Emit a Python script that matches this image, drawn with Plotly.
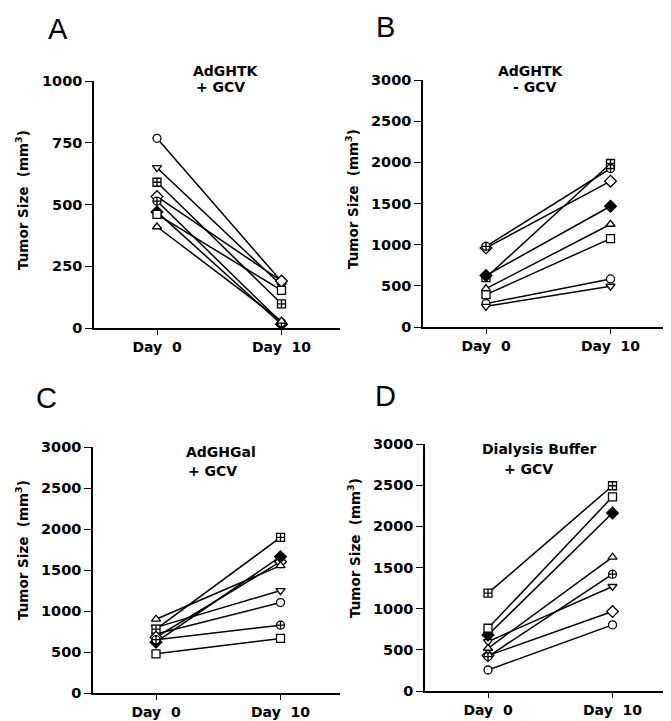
import plotly.graph_objects as go

W, H = 671, 721
OFF = 8                      # browser body margin
PW, PH = W, H

days = [0, 10]
day_labels = ["Day\u00a0\u00a00", "Day\u00a0\u00a010"]
mice = ["circle", "triangle-down", "square-cross", "diamond", "diamond-filled",
        "circle-cross", "square", "triangle-up"]

# Tumor size (mm3) per mouse, Day 0 and Day 10
a_day0 = [768, 649, 590, 532, 470, 514, 460, 410]
a_day10 = [188, 172, 98, 190, 15, 22, 152, 28]
b_day0 = [284, 251, 600, 960, 625, 980, 393, 466]
b_day10 = [584, 495, 1986, 1771, 1467, 1925, 1074, 1248]
c_day0 = [720, 800, 780, 680, 620, 650, 478, 900]
c_day10 = [1103, 1249, 1897, 1601, 1662, 827, 665, 1553]
d_day0 = [255, 600, 1188, 430, 681, 418, 762, 519]
d_day10 = [803, 1269, 2493, 965, 2161, 1419, 2359, 1625]

a_ticks = [0, 250, 500, 750, 1000]
bcd_ticks = [0, 500, 1000, 1500, 2000, 2500, 3000]

panels = [
    dict(letter="A", d0=a_day0, d10=a_day10, ticks=a_ticks, ymax=1000,
         box=(94, 340, 81, 328), title=[("AdGHTK", 226, 71), ("+ GCV", 220, 87)],
         letter_pos=(58, 29), ytitle_pos=(22, 200)),
    dict(letter="B", d0=b_day0, d10=b_day10, ticks=bcd_ticks, ymax=3000,
         box=(423, 668, 80, 327), title=[("AdGHTK", 531, 71), ("- GCV", 534, 87)],
         letter_pos=(385, 27), ytitle_pos=(352, 199)),
    dict(letter="C", d0=c_day0, d10=c_day10, ticks=bcd_ticks, ymax=3000,
         box=(93, 340, 447, 693), title=[("AdGHGal", 221, 452), ("+ GCV", 212, 471)],
         letter_pos=(46, 398), ytitle_pos=(22, 550)),
    dict(letter="D", d0=d_day0, d10=d_day10, ticks=bcd_ticks, ymax=3000,
         box=(425, 670, 444, 691), title=[("Dialysis Buffer", 539, 449), ("+ GCV", 528, 469)],
         letter_pos=(386, 396), ytitle_pos=(354, 548)),
]


def px(x):
    return (x - OFF) / PW


def py(y):
    return 1 - (y - OFF) / PH


FONT = "DejaVu Sans, Liberation Sans, Arial"
fig = go.Figure()
annotations = []
layout = {}

for i, p in enumerate(panels):
    n = "" if i == 0 else str(i + 1)
    xa, ya = "x" + n, "y" + n
    x0, x1, y0, y1 = p["box"]
    day_px = 12.45
    d0x = x0 + (157 - 94) if i in (0, 2) else x0 + (487 - 424)
    rng = [-(d0x - x0) / day_px, (x1 - d0x) / day_px]
    layout["xaxis" + n] = dict(
        domain=[px(x0), px(x1)], range=rng, anchor=ya, automargin=False,
        tickvals=days, ticktext=day_labels, showline=True, linecolor="black",
        linewidth=1.5, ticks="outside", ticklen=5, tickwidth=1.3, tickcolor="black",
        showgrid=False, zeroline=False,
        tickfont=dict(family=FONT, size=14, color="black", weight="bold"))
    layout["yaxis" + n] = dict(
        domain=[py(y1), py(y0)], range=[0, p["ymax"]], anchor=xa, automargin=False,
        tickvals=p["ticks"], showline=True, linecolor="black", linewidth=1.5,
        ticks="outside", ticklen=7, tickwidth=1.3, tickcolor="black",
        showgrid=False, zeroline=False,
        tickfont=dict(family=FONT, size=14.5, color="black", weight="bold"))
    for j, sym in enumerate(mice):
        filled = sym.endswith("-filled")
        s = sym.replace("-filled", "")
        fig.add_trace(go.Scatter(
            x=days, y=[p["d0"][j], p["d10"][j]], xaxis=xa, yaxis=ya,
            mode="lines+markers", cliponaxis=False, showlegend=False,
            line=dict(color="black", width=1.5),
            marker=dict(symbol=s, size=8 if s != "diamond" else 9,
                        color="black" if filled else "white",
                        line=dict(color="black", width=1.3))))
    lx, ly = p["letter_pos"]
    annotations.append(dict(text=p["letter"], x=px(lx), y=py(ly), xref="paper",
                            yref="paper", showarrow=False, xanchor="center", yanchor="middle",
                            font=dict(family="Liberation Sans, Arial", size=29, color="black")))
    tx, ty = p["ytitle_pos"]
    annotations.append(dict(text="Tumor Size\u00a0\u00a0(mm<sup>3</sup>)", x=px(tx), y=py(ty),
                            xref="paper", yref="paper", showarrow=False, textangle=-90,
                            xanchor="center", yanchor="middle",
                            font=dict(family=FONT, size=13.5, color="black", weight="bold")))
    for text, cx, cy in p["title"]:
        annotations.append(dict(text=text, x=px(cx), y=py(cy), xref="paper", yref="paper",
                                showarrow=False, xanchor="center", yanchor="middle",
                                font=dict(family=FONT, size=14, color="black", weight="bold")))

fig.update_layout(width=PW, height=PH,
                  margin=dict(l=0, r=0, t=0, b=0, pad=0, autoexpand=False),
                  paper_bgcolor="white", plot_bgcolor="white",
                  annotations=annotations, **layout)
fig.write_html("out.html")
